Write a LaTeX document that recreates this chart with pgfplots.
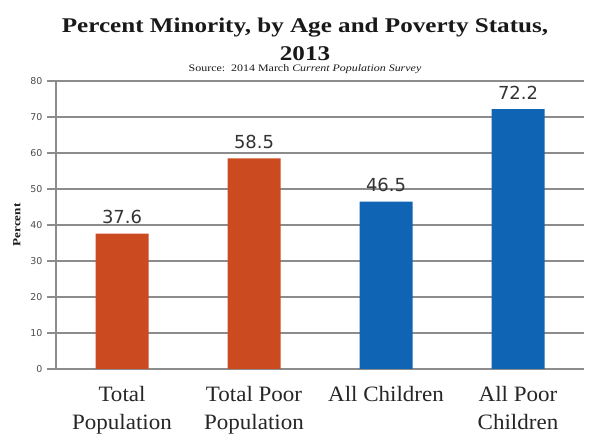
\documentclass[border=0pt]{standalone}
\usepackage{pgfplots}
\pgfplotsset{compat=1.18}
\usepackage{fontspec}
\setmainfont{Liberation Serif}
\newfontfamily\titlefont[FakeStretch=1.2]{Liberation Serif}
\newfontfamily\catfont[FakeStretch=1.05]{Liberation Serif}
\newfontfamily\tickfont{DejaVu Sans}
\definecolor{barorange}{HTML}{CC4A1F}
\definecolor{barblue}{HTML}{0F64B3}
\definecolor{gridgray}{HTML}{8C8C8C}
\begin{document}
\begin{tikzpicture}[x=1bp,y=1bp]
\path (0,0) rectangle (596,438);
\node[font=\titlefont\bfseries\fontsize{21}{23}\selectfont, anchor=base, text=black!90] at (305,405) {Percent Minority, by Age and Poverty Status,};
\node[font=\titlefont\bfseries\fontsize{21}{23}\selectfont, anchor=base, text=black!90] at (305,377) {2013};
\node[font=\titlefont\fontsize{10}{11}\selectfont, anchor=base, text=black!90] at (305,366.5) {Source:\ \ 2014 March \textit{Current Population Survey}};
\begin{axis}[
  at={(56bp,69bp)}, anchor=south west,
  scale only axis, width=528bp, height=288bp,
  xmin=-0.5, xmax=3.5, ymin=0, ymax=80,
  ytick={0,10,...,80},
  xtick={0,1,2,3},
  xticklabels={{Total\\Population},{Total Poor\\Population},{All Children},{All Poor\\Children}},
  xticklabel style={align=center, font=\catfont\fontsize{22}{28}\selectfont, text=black!85, anchor=north, yshift=-5bp},
  extra x ticks={0.5,1.5,2.5}, extra x tick labels={},
  extra x tick style={major tick length=5bp, tick style={gridgray, line width=1pt}, tick align=outside},
  major x tick style={draw=none},
  yticklabel style={font=\tickfont\fontsize{9.5}{10}\selectfont, text=black!70, xshift=-1bp},
  /pgf/number format/assume math mode=true,
  ymajorgrids, grid style={gridgray, line width=1.1pt},
  axis x line*=bottom, axis y line*=left,
  axis line style={gridgray, line width=1.3pt, -},
  y tick style={gridgray, line width=1.1pt}, tick align=outside, major tick length=9bp,
  ylabel={\bfseries Percent}, ylabel style={font=\titlefont\fontsize{11}{12}\selectfont, at={(axis description cs:-0.074,0.5)}, anchor=center, text=black!90},
  ybar, bar width=53bp, bar shift=0pt,
  nodes near coords={\pgfmathprintnumber[fixed,fixed zerofill,precision=1,assume math mode=true]{\pgfplotspointmeta}},
  every node near coord/.append style={font=\tickfont\fontsize{18}{20}\selectfont, text=black!80, yshift=6bp},
  nodes near coords align={vertical},
]
\addplot[fill=barorange, draw=none] coordinates {(0,37.6) (1,58.5)};
\addplot[fill=barblue, draw=none] coordinates {(2,46.5) (3,72.2)};
\end{axis}
\end{tikzpicture}
\end{document}
